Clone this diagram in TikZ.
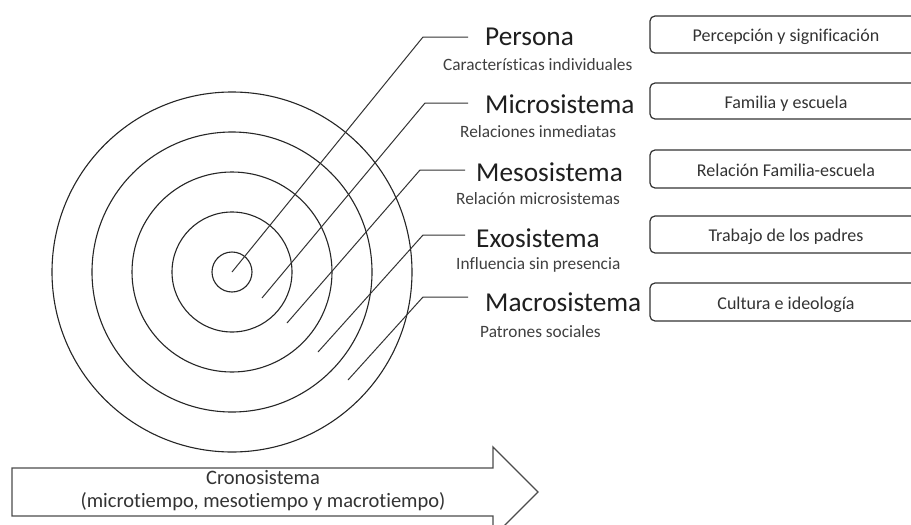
\documentclass[tikz,border=0pt]{standalone}
\usepackage{fontspec}
\setmainfont{Carlito}[Ligatures=NoCommon]
\begin{document}
\begin{tikzpicture}[x=1pt,y=-1pt,
  ring/.style={draw=black!85, line width=1.1pt},
  leader/.style={draw=black!80, line width=1pt},
  title/.style={anchor=west, inner sep=0pt, text=black!88, font=\fontsize{27.3}{29}\selectfont},
  subt/.style={anchor=west, inner sep=0pt, text=black!75, font=\fontsize{17.3}{19}\selectfont},
  infobox/.style={draw=black!80, line width=1.2pt, rounded corners=5pt, minimum width=272pt, text=black!80, text height=14pt, text depth=0pt, font=\fontsize{18}{20}\selectfont},
  crono/.style={text=black!80, inner sep=0pt, font=\fontsize{20.5}{23}\selectfont}]
\useasboundingbox (0,0) rectangle (911,525);
\fill[white] (0,0) rectangle (911,525);
% rings
\coordinate (c) at (232,272);
\foreach \r in {20,60,100,140,180}{
  \draw[ring] (c) circle[radius=\r];
}
% titles
\node[title] (t1) at (485,37) {Persona};
\node[title] (t2) at (485,104) {Microsistema};
\node[title] (t3) at (476,172) {Mesosistema};
\node[title] (t4) at (476,238) {Exosistema};
\node[title] (t5) at (485,302) {Macrosistema};
% subtitles
\node[subt] (s1) at (443,65) {Características individuales};
\node[subt] (s2) at (460,132) {Relaciones inmediatas};
\node[subt] (s3) at (456,199) {Relación microsistemas};
\node[subt] (s4) at (456,265) {Influencia sin presencia};
\node[subt] (s5) at (480,332) {Patrones sociales};
% leaders
\coordinate (a1) at (232,272); \coordinate (k1) at (423,37);  \coordinate (e1) at (468,37);
\coordinate (a2) at (262,298); \coordinate (k2) at (425,103); \coordinate (e2) at (468,103);
\coordinate (a3) at (287,323); \coordinate (k3) at (420,170); \coordinate (e3) at (465,170);
\coordinate (a4) at (318,352); \coordinate (k4) at (423,235); \coordinate (e4) at (465,235);
\coordinate (a5) at (348,380); \coordinate (k5) at (423,297); \coordinate (e5) at (468,297);
\foreach \i in {1,...,5}{\draw[leader] (a\i) -- (k\i) -- (e\i);}
% boxes
\node[infobox, minimum height=37pt] (b1) at (786,34.5) {Percepción y significación};
\node[infobox, minimum height=36pt] (b2) at (786,101) {Familia y escuela};
\node[infobox, minimum height=38pt] (b3) at (786,169) {Relación Familia-escuela};
\node[infobox, minimum height=37pt] (b4) at (786,234.5) {Trabajo de los padres};
\node[infobox, minimum height=38pt] (b5) at (786,302) {Cultura e ideología};
% cronosistema arrow
\draw[draw=black!70, line width=1.3pt, fill=white] (12,468) -- (493,468) -- (493,447) -- (538,492) -- (493,537) -- (493,516) -- (12,516) -- cycle;
\node[crono] (cr1) at (263,478) {Cronosistema};
\node[crono] (cr2) at (263,502) {(microtiempo, mesotiempo y macrotiempo)};
\end{tikzpicture}
\end{document}
